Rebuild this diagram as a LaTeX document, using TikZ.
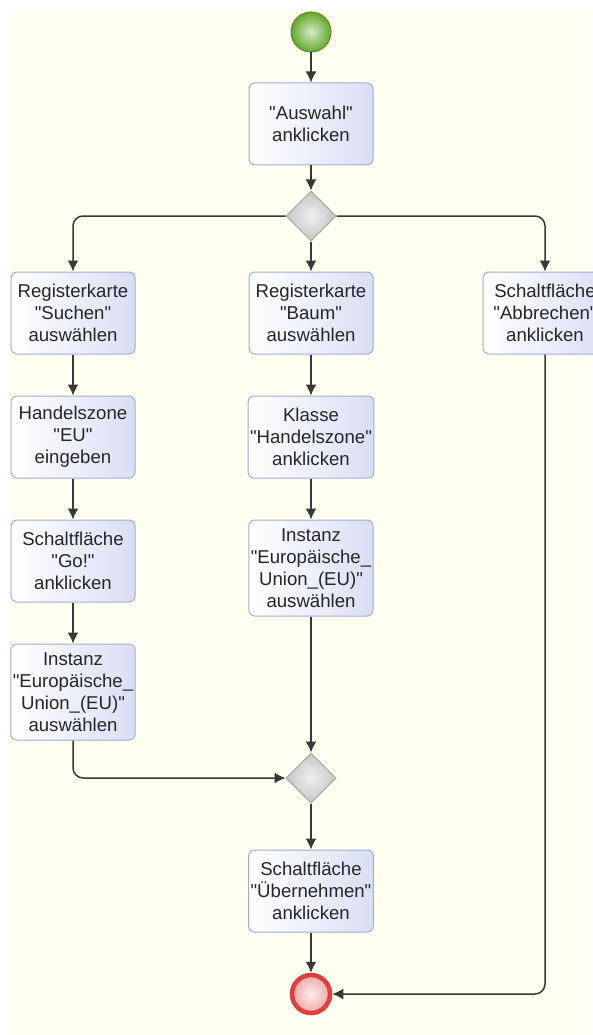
\documentclass[tikz,border=0pt]{standalone}
\usepackage{fontspec}
\setmainfont{Liberation Sans}[Ligatures=TeXOff]
\usetikzlibrary{math,shapes.geometric,arrows.meta}

\definecolor{cream}{RGB}{255,255,241}
\definecolor{boxblue}{RGB}{218,222,244}
\definecolor{boxline}{RGB}{160,174,214}
\definecolor{flowgray}{RGB}{56,56,56}
\definecolor{startgreen}{RGB}{100,168,44}
\definecolor{endred}{RGB}{226,62,62}

\tikzset{
  actbox/.style={draw=boxline, line width=1pt, rounded corners=6pt,
    left color=white, right color=boxblue, align=center,
    minimum width=124pt, minimum height=82pt, inner sep=2pt,
    font=\fontsize{18.6}{22}\selectfont, text=black!85},
  tallbox/.style={actbox, minimum height=96pt},
  decision/.style={diamond, draw=gray!70, line width=1pt, inner sep=0pt,
    minimum width=50pt, minimum height=50pt,
    inner color=gray!12, outer color=gray!45},
  startdot/.style={circle, draw=startgreen!85!black, line width=1pt,
    minimum size=40pt, inner sep=0pt,
    inner color=startgreen!25, outer color=startgreen},
  stopdot/.style={circle, draw=endred, line width=4.5pt,
    minimum size=38pt, inner sep=0pt,
    inner color=endred!10, outer color=endred!45},
  flow/.style={draw=flowgray, line width=1.5pt, rounded corners=10pt,
    -{Latex[length=11pt,width=11pt]}}
}

\begin{document}
\begin{tikzpicture}[x=1pt,y=-1pt]

\tikzmath{
\colL = 73;
\colM = 311;
\colR = 545;
}

% page and background
\useasboundingbox (0,0) rectangle (592,1035);
\fill[cream] (10,10) rectangle (592,1035);

% main column
\node[startdot] (start) at (\colM,32) {};
\node[actbox] (auswahl) at (\colM,124) {"Auswahl"\\anklicken};
\node[decision] (split) at (\colM,216) {};

% left branch
\node[actbox] (suchen) at (\colL,313) {Registerkarte\\"Suchen"\\auswählen};
\node[actbox] (zone) at (\colL,437) {Handelszone\\"EU"\\eingeben};
\node[actbox] (go) at (\colL,561) {Schaltfläche\\"Go!"\\anklicken};
\node[tallbox] (instL) at (\colL,692) {Instanz\\"Europäische\_\\Union\_(EU)"\\auswählen};

% middle branch
\node[actbox] (baum) at (\colM,313) {Registerkarte\\"Baum"\\auswählen};
\node[actbox] (klasse) at (\colM,437) {Klasse\\"Handelszone"\\anklicken};
\node[tallbox] (instM) at (\colM,568) {Instanz\\"Europäische\_\\Union\_(EU)"\\auswählen};

% right branch
\node[actbox] (abbr) at (\colR,313) {Schaltfläche\\"Abbrechen"\\anklicken};

% merge and end
\node[decision] (merge) at (\colM,778) {};
\node[actbox] (uebern) at (\colM,891) {Schaltfläche\\"Übernehmen"\\anklicken};
\node[stopdot] (stop) at (\colM,994) {};

% connectors
\draw[flow] (start) -- (auswahl);
\draw[flow] (auswahl) -- (split);
\draw[flow] (split.west) -| (suchen);
\draw[flow] (split) -- (baum);
\draw[flow] (split.east) -| (abbr);

\draw[flow] (suchen) -- (zone);
\draw[flow] (zone) -- (go);
\draw[flow] (go) -- (instL);
\draw[flow] (instL) |- (merge.west);

\draw[flow] (baum) -- (klasse);
\draw[flow] (klasse) -- (instM);
\draw[flow] (instM) -- (merge);

\draw[flow] (merge) -- (uebern);
\draw[flow] (uebern) -- (stop);
\draw[flow] (abbr) |- (stop.east);

\end{tikzpicture}
\end{document}
